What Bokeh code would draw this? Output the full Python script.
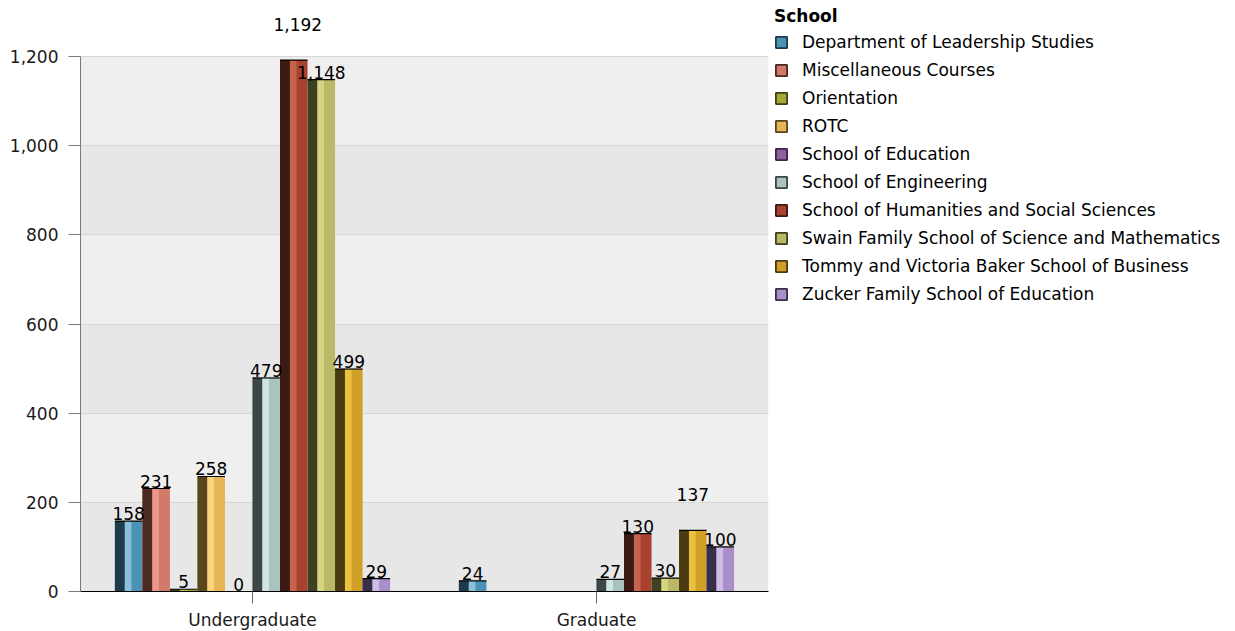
from bokeh.plotting import figure
from bokeh.models import (ColumnDataSource, FactorRange, Range1d, LabelSet, Legend,
                          LegendItem, NumeralTickFormatter, FixedTicker, BoxAnnotation, Grid)
from bokeh.transform import dodge
from bokeh.core.properties import value
from bokeh.embed import file_html
from bokeh.resources import INLINE

# ---------------- data ----------------
categories = ["Undergraduate", "Graduate"]
schools = [
    "Department of Leadership Studies",
    "Miscellaneous Courses",
    "Orientation",
    "ROTC",
    "School of Education",
    "School of Engineering",
    "School of Humanities and Social Sciences",
    "Swain Family School of Science and Mathematics",
    "Tommy and Victoria Baker School of Business",
    "Zucker Family School of Education",
]
undergraduate = [158, 231, 5, 258, 0, 479, 1192, 1148, 499, 29]
graduate = [24, None, None, None, None, 27, 130, 30, 137, 100]
y_ticks = [0, 200, 400, 600, 800, 1000, 1200]

# ---------------- styles ----------------
shade_dark = ["#1d3b4a", "#4a2a22", "#3e4018", "#5a461e", "#3e2848",
              "#3c4646", "#3a1a12", "#3e4024", "#4a3a12", "#38304a"]
shade_light = ["#8cc0d8", "#eb9888", "#c8c84a", "#fad57a", "#b488c4",
               "#d0e4e0", "#c4644c", "#d6d682", "#ecc040", "#d0bce6"]
shade_base = ["#4b93b5", "#d4786a", "#a4a832", "#e6b555", "#8e5ea0",
              "#a9c3bf", "#a8412f", "#b9b967", "#d09f28", "#a98fc9"]
band_colors = ["#e7e7e7", "#efefef"]
FONT = "DejaVu Sans"
FS = "17px"
# labels that were lifted above their bar in the original (px)
label_shift = {("Undergraduate", schools[6]): (4, 28),
               ("Graduate", schools[8]): (0, 28)}

FRAME_L, FRAME_W, FRAME_H, BOTTOM = 80, 688, 591, 39
AXIS_TOP_PX = 56          # where 1,200 sits
y_max = y_ticks[-1]
y_end = y_max * FRAME_H / (FRAME_H - AXIS_TOP_PX)   # room above for labels

p = figure(x_range=FactorRange(*categories), y_range=Range1d(0, y_end),
           frame_width=FRAME_W, frame_height=FRAME_H,
           output_backend="svg", toolbar_location=None,
           min_border_left=FRAME_L, min_border_right=0, min_border_top=0,
           min_border_bottom=BOTTOM)
p.x_range.range_padding = 0
p.outline_line_color = None
p.background_fill_color = "white"
p.border_fill_color = "white"
p.grid.visible = False

# alternating bands, then grid lines on top of them
for k in range(len(y_ticks) - 1):
    p.add_layout(BoxAnnotation(bottom=y_ticks[k], top=y_ticks[k + 1],
                               fill_color=band_colors[k % 2], fill_alpha=1,
                               line_color=None, level="underlay"))
p.add_layout(Grid(dimension=1, ticker=FixedTicker(ticks=y_ticks),
                  grid_line_color="#d6d6d6", level="underlay"))

group = 0.8
n = len(schools)
w = group / n
items = []
for i, s in enumerate(schools):
    cats, vals, texts, xo, yo = [], [], [], [], []
    for c, series in zip(categories, (undergraduate, graduate)):
        v = series[i]
        if v is None:
            continue
        cats.append(c)
        vals.append(v)
        texts.append(f"{v:,}")
        dx, dy = label_shift.get((c, s), (0, 0))
        xo.append(dx)
        yo.append(1 + dy)
    src = ColumnDataSource(dict(cat=cats, val=vals, text=texts, xo=xo, yo=yo))
    c0 = -group / 2 + (i + 0.5) * w
    p.vbar(x=dodge("cat", c0, range=p.x_range), top="val", bottom=0, width=w,
           source=src, fill_color=shade_base[i], line_color=None)
    p.vbar(x=dodge("cat", c0 - w / 2 + 0.18 * w, range=p.x_range), top="val", bottom=0,
           width=0.36 * w, source=src, fill_color=shade_dark[i], line_color=None)
    p.vbar(x=dodge("cat", c0 - w / 2 + 0.48 * w, range=p.x_range), top="val", bottom=0,
           width=0.24 * w, source=src, fill_color=shade_light[i], line_color=None)
    p.segment(x0=dodge("cat", c0 - w / 2, range=p.x_range), x1=dodge("cat", c0 + w / 2, range=p.x_range),
              y0="val", y1="val", source=src, line_color="black", line_width=1.2)
    p.add_layout(LabelSet(x=dodge("cat", c0, range=p.x_range), y="val", text="text",
                          x_offset="xo", y_offset="yo", source=src,
                          text_align="center", text_baseline="bottom",
                          text_font=value(FONT), text_font_size=value(FS),
                          text_color="black"))
    # legend swatch renderer (one row, NaN height -> nothing drawn in the plot)
    swatch = ColumnDataSource(dict(cat=[categories[0]], val=[float("nan")]))
    lr = p.vbar(x="cat", top="val", width=w, source=swatch,
                fill_color=shade_base[i], line_color=shade_dark[i], line_width=1.8)
    items.append(LegendItem(label=s, renderers=[lr]))

legend = Legend(items=items, location="top_left", title="School",
                title_text_font=FONT, title_text_font_size=FS,
                title_text_font_style="bold", title_standoff=6,
                title_text_color="black",
                label_text_font=FONT, label_text_font_size=FS,
                label_text_color="black",
                glyph_width=14, glyph_height=14, label_height=20,
                label_standoff=14, spacing=8, padding=4, margin=6,
                border_line_color=None, background_fill_alpha=0)
p.add_layout(legend, "right")

p.yaxis.ticker = FixedTicker(ticks=y_ticks)
p.yaxis.bounds = (0, y_max)
p.yaxis.formatter = NumeralTickFormatter(format="0,0")
p.yaxis.major_tick_out = 12
p.yaxis.major_tick_in = 0
p.yaxis.minor_tick_line_color = None
p.yaxis.axis_line_color = "#7a7a7a"
p.yaxis.major_tick_line_color = "#7a7a7a"
p.yaxis.major_label_standoff = 10
p.yaxis.major_label_text_font = FONT
p.yaxis.major_label_text_font_size = FS
p.yaxis.major_label_text_color = "#1a1a1a"

p.xaxis.axis_line_color = "black"
p.xaxis.major_tick_out = 12
p.xaxis.major_tick_in = 0
p.xaxis.major_tick_line_color = "#666666"
p.xaxis.major_label_standoff = 6
p.xaxis.major_label_text_font = FONT
p.xaxis.major_label_text_font_size = FS
p.xaxis.major_label_text_color = "#1a1a1a"

open("out.html", "w").write(file_html(p, INLINE))
